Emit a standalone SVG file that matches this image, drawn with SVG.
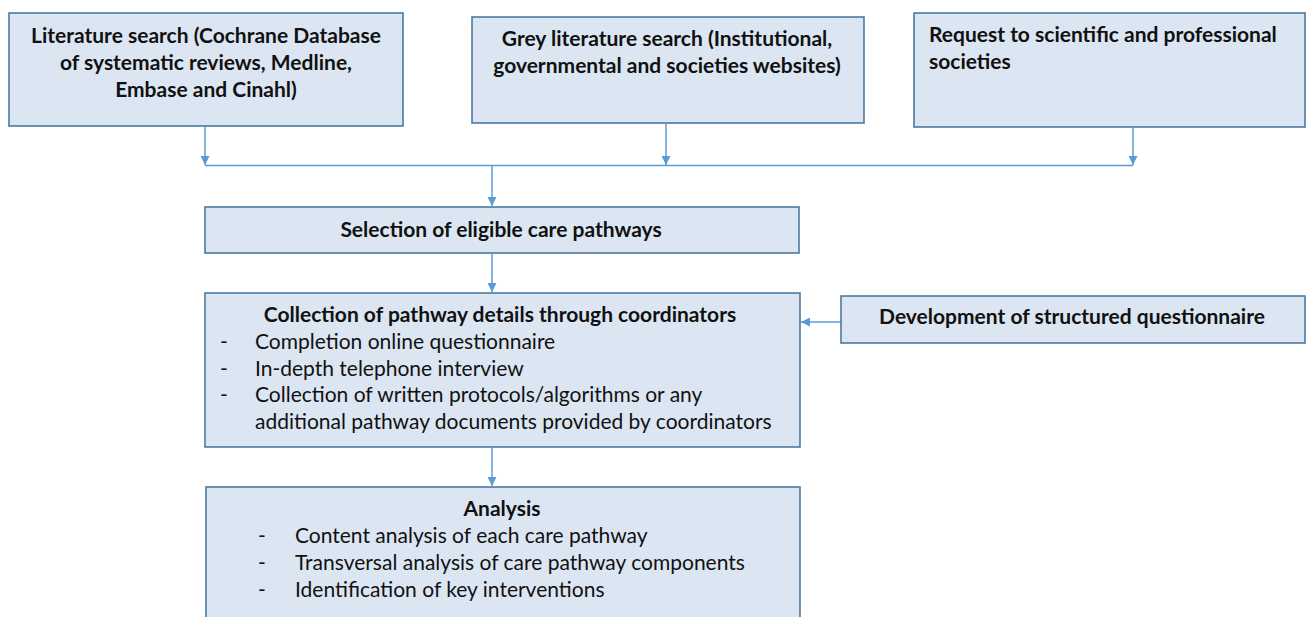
<svg xmlns="http://www.w3.org/2000/svg" width="1306" height="617" viewBox="0 0 1306 617">
<style>
.box{fill:#dce6f2;stroke:#41719c;stroke-width:1.5}
.t{font-family:Lato,"Open Sans",sans-serif;font-size:21px;fill:#111}
.b{font-weight:bold}
.c{text-anchor:middle}
.con{stroke:#5b9bd5;stroke-width:1.5;fill:none}
</style>
<defs>
<marker id="ah" viewBox="0 0 10 10" refX="10" refY="5" markerWidth="9" markerHeight="9" markerUnits="userSpaceOnUse" orient="auto">
<path d="M0,0 L10,5 L0,10 z" fill="#5b9bd5"/>
</marker>
</defs>
<rect width="1306" height="617" fill="#fff"/>
<g id="connectors">
<line class="con" x1="205" y1="126" x2="205" y2="165" marker-end="url(#ah)"/>
<line class="con" x1="666" y1="124" x2="666" y2="165" marker-end="url(#ah)"/>
<line class="con" x1="1133" y1="128" x2="1133" y2="165" marker-end="url(#ah)"/>
<line class="con" x1="205" y1="165.5" x2="1133" y2="165.5"/>
<line class="con" x1="492" y1="165" x2="492" y2="206" marker-end="url(#ah)"/>
<line class="con" x1="492" y1="254" x2="492" y2="292" marker-end="url(#ah)"/>
<line class="con" x1="841" y1="322" x2="801" y2="322" marker-end="url(#ah)"/>
<line class="con" x1="492" y1="448" x2="492" y2="486" marker-end="url(#ah)"/>
</g>
<g id="lit">
<rect class="box" x="9" y="13" width="394" height="113"/>
<text class="t b c" x="206" y="43">Literature search (Cochrane Database</text>
<text class="t b c" x="206" y="70">of systematic reviews, Medline,</text>
<text class="t b c" x="206" y="97">Embase and Cinahl)</text>
</g>
<g id="grey">
<rect class="box" x="472" y="17" width="392" height="106"/>
<text class="t b c" x="667" y="46">Grey literature search (Institutional,</text>
<text class="t b c" x="667" y="73">governmental and societies websites)</text>
</g>
<g id="request">
<rect class="box" x="914" y="13" width="391" height="114"/>
<text class="t b" x="929" y="42">Request to scientific and professional</text>
<text class="t b" x="929" y="69">societies</text>
</g>
<g id="selection">
<rect class="box" x="205" y="207" width="594" height="46"/>
<text class="t b c" x="501" y="237">Selection of eligible care pathways</text>
</g>
<g id="collection">
<rect class="box" x="205" y="293" width="595" height="154"/>
<text class="t b c" x="500" y="322">Collection of pathway details through coordinators</text>
<text class="t" x="220" y="349">-</text>
<text class="t" x="255" y="349">Completion online questionnaire</text>
<text class="t" x="220" y="376">-</text>
<text class="t" x="255" y="376">In-depth telephone interview</text>
<text class="t" x="220" y="402">-</text>
<text class="t" x="255" y="402">Collection of written protocols/algorithms or any</text>
<text class="t" x="255" y="429">additional pathway documents provided by coordinators</text>
</g>
<g id="questionnaire">
<rect class="box" x="841" y="296" width="464" height="47"/>
<text class="t b c" x="1072" y="324">Development of structured questionnaire</text>
</g>
<g id="analysis">
<rect class="box" x="206" y="487" width="594" height="140"/>
<text class="t b c" x="502" y="516">Analysis</text>
<text class="t" x="258" y="543">-</text>
<text class="t" x="295" y="543">Content analysis of each care pathway</text>
<text class="t" x="258" y="570">-</text>
<text class="t" x="295" y="570">Transversal analysis of care pathway components</text>
<text class="t" x="258" y="597">-</text>
<text class="t" x="295" y="597">Identification of key interventions</text>
</g>
</svg>
